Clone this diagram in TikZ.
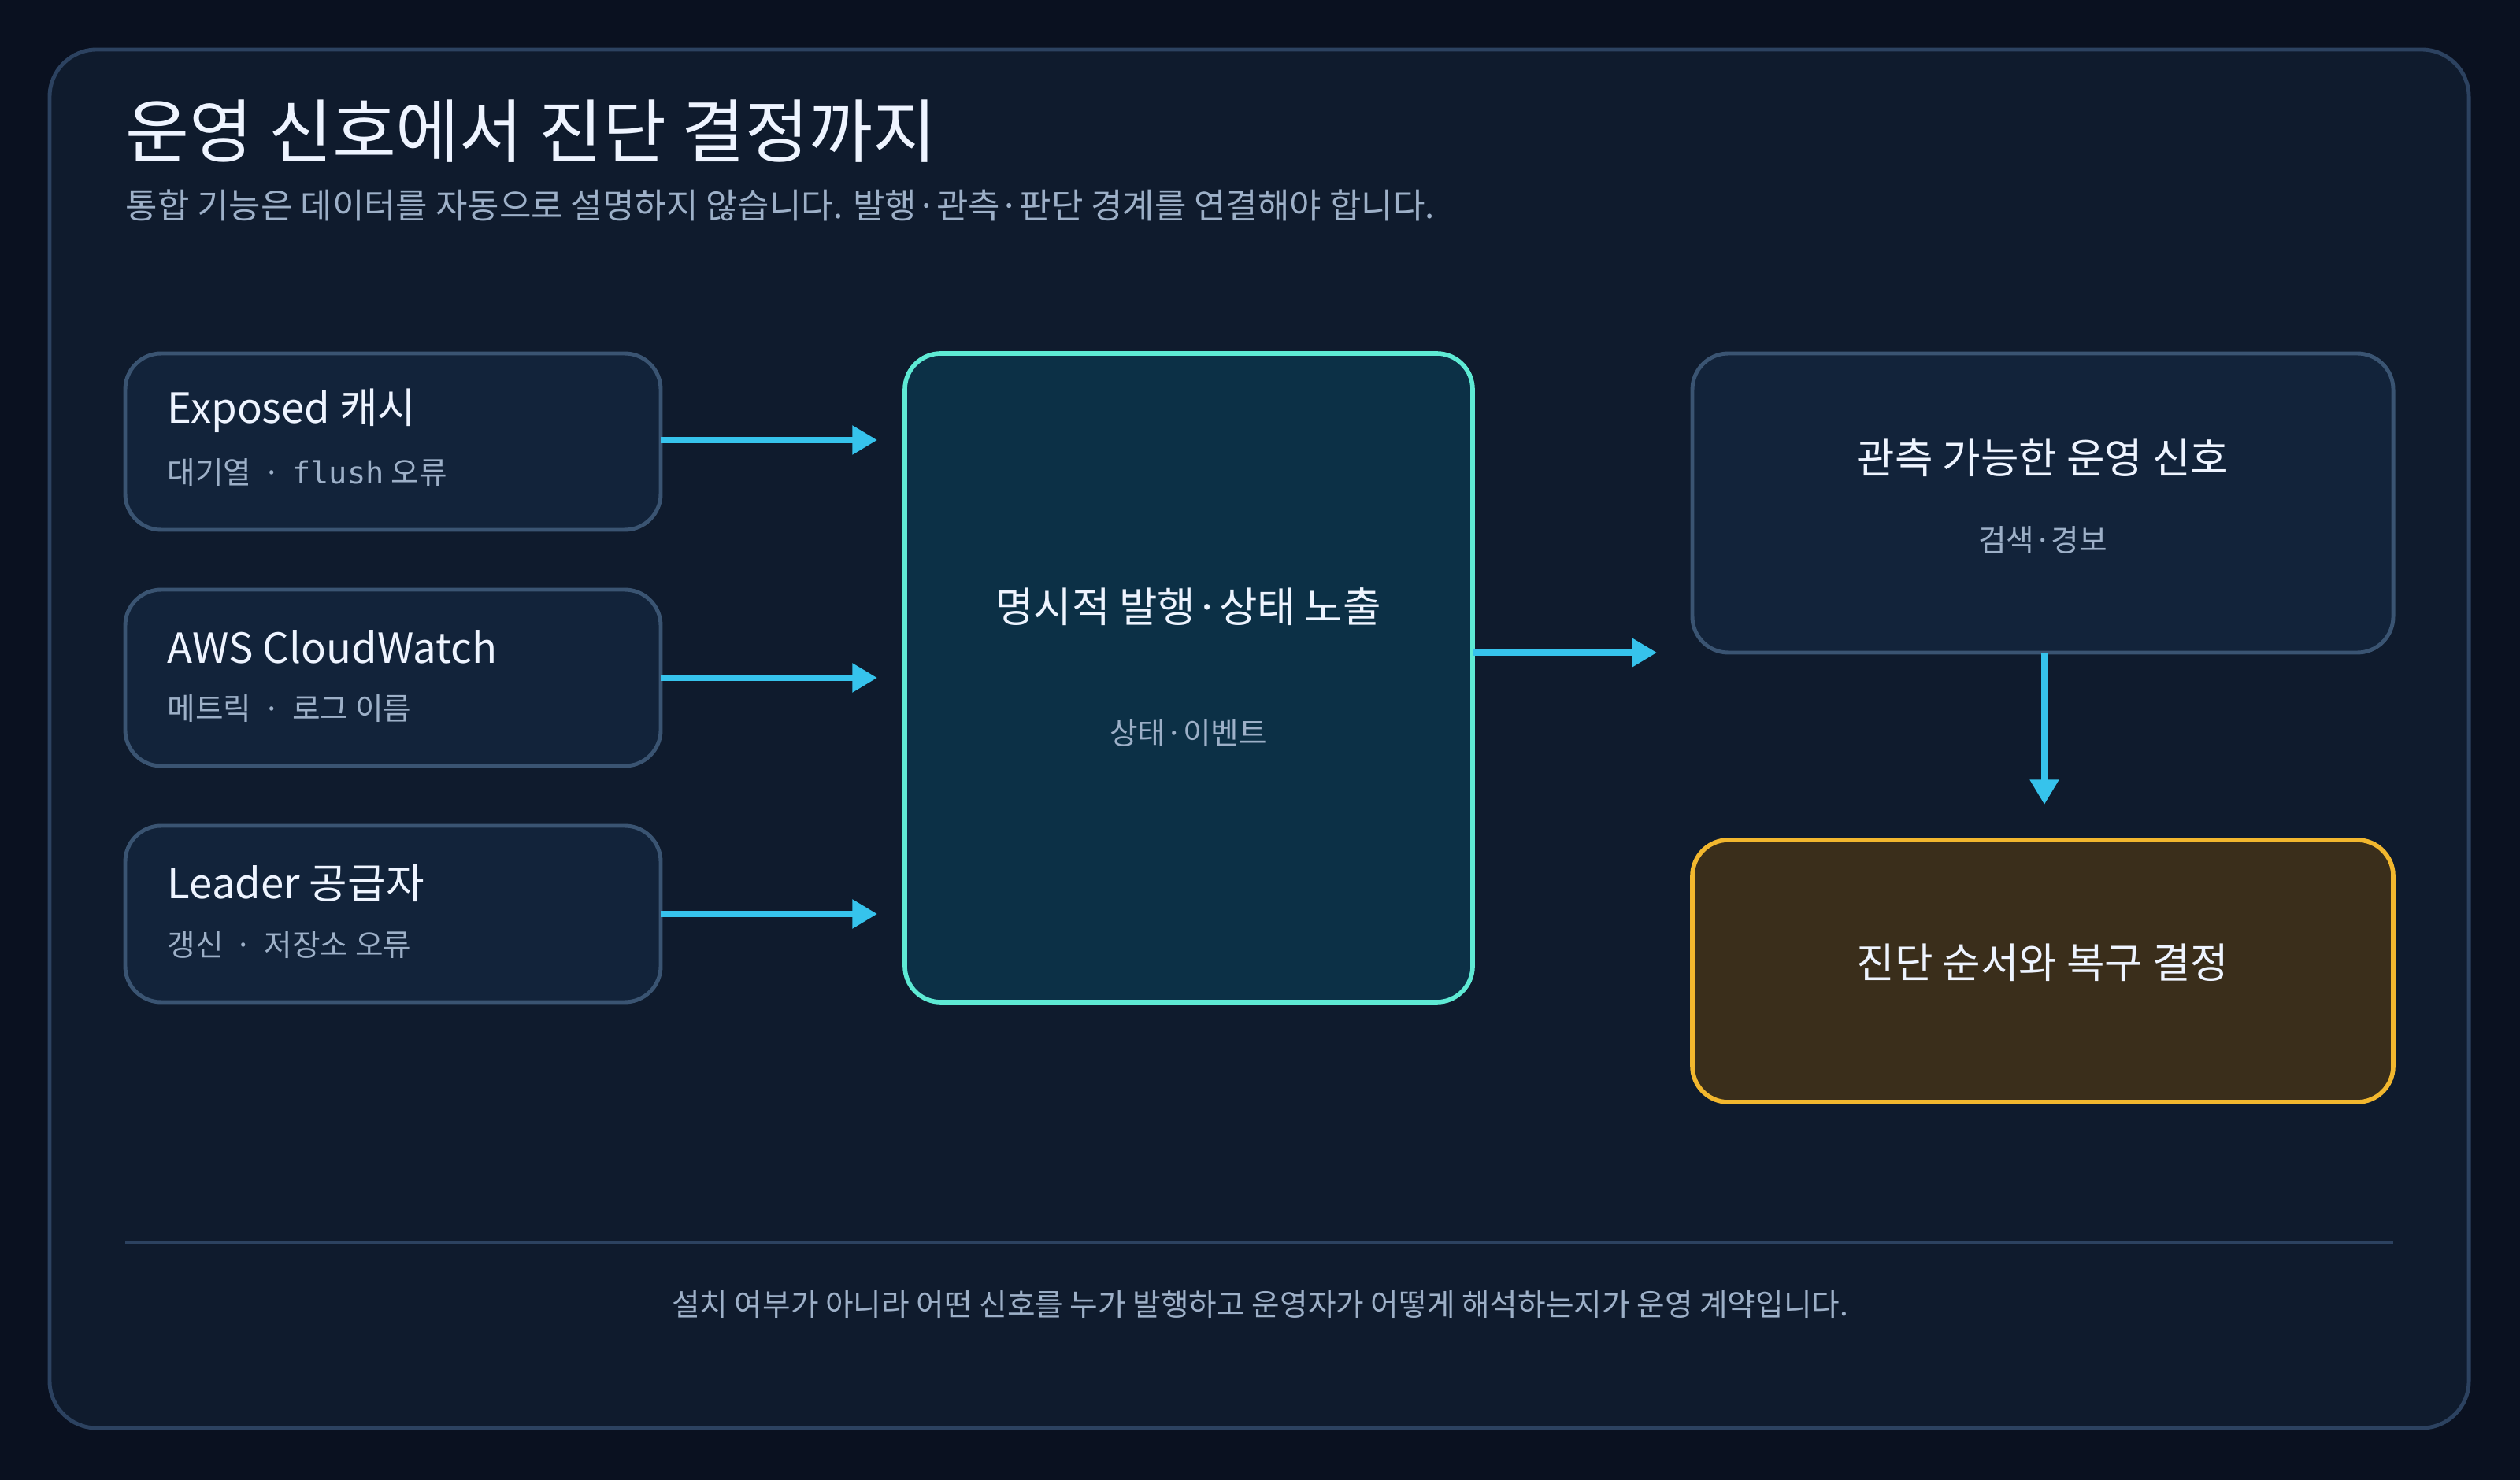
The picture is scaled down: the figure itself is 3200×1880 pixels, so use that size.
\documentclass[tikz,border=0pt]{standalone}
\usepackage{fontspec}
\setmainfont{Noto Sans CJK KR}
\setmonofont{DejaVu Sans Mono}
\usetikzlibrary{arrows.meta}
\definecolor{bg}{HTML}{0A1120}
\definecolor{panel}{HTML}{0F1B2D}
\definecolor{panelb}{HTML}{2C4260}
\definecolor{boxf}{HTML}{12233A}
\definecolor{boxb}{HTML}{3A5472}
\definecolor{arr}{HTML}{36C3EC}
\definecolor{txt}{HTML}{EEF4FF}
\definecolor{sub}{HTML}{9DB0C8}
\definecolor{cfill}{HTML}{0C3046}
\definecolor{cbord}{HTML}{5EEAD4}
\definecolor{yfill}{HTML}{3A2E1B}
\definecolor{ybord}{HTML}{F2B72E}
\begin{document}
\begin{tikzpicture}[x=0.01cm,y=-0.01cm,
 src/.style={draw=boxb,line width=1.4pt,fill=boxf,rounded corners=13pt},
 arrow/.style={draw=arr,line width=2.2pt,-{Triangle[length=9pt,width=10pt]}},
 ttl/.style={text=txt,font=\fontsize{15}{18}\selectfont,inner sep=0},
 st/.style={text=sub,font=\fontsize{11}{13}\selectfont,inner sep=0}]
\useasboundingbox (0,0) rectangle (3200,1880);
\fill[bg] (0,0) rectangle (3200,1880);
\draw[panelb,fill=panel,line width=1.4pt,rounded corners=17pt] (63,63) rectangle (3135,1814);
\node[anchor=west,text=txt,font=\fontsize{25}{30}\selectfont,inner sep=0] (title) at (159,167) {운영 신호에서 진단 결정까지};
\node[anchor=west,st,font=\fontsize{12.5}{15}\selectfont] (subt) at (159,261) {통합 기능은 데이터를 자동으로 설명하지 않습니다. 발행·관측·판단 경계를 연결해야 합니다.};
% left boxes
\path[src] (159,449) rectangle (839,673); \coordinate (a) at (839,559);
\path[src] (159,749) rectangle (839,973); \coordinate (b) at (839,861);
\path[src] (159,1049) rectangle (839,1273); \coordinate (c) at (839,1161);
\node[anchor=west,ttl] (at) at (212,522) {Exposed 캐시};
\node[anchor=west,st] (as) at (212,600) {대기열 \,·\, {\ttfamily flush} 오류};
\node[anchor=west,ttl] (bt) at (212,822) {AWS CloudWatch};
\node[anchor=west,st] (bs) at (212,900) {메트릭 \,·\, 로그 이름};
\node[anchor=west,ttl] (ct) at (212,1122) {Leader 공급자};
\node[anchor=west,st] (cs) at (212,1200) {갱신 \,·\, 저장소 오류};
% center
\draw[cbord,fill=cfill,line width=1.6pt,rounded corners=13pt] (1149,449) rectangle (1870,1273);
\node[ttl] (mt) at (1509,771) {명시적 발행·상태 노출};
\node[st] (ms) at (1509,931) {상태·이벤트};
\coordinate (ma) at (1114,559); \coordinate (mb) at (1114,861); \coordinate (mc) at (1114,1161);
\draw[arrow] (a) -- (ma); \draw[arrow] (b) -- (mb); \draw[arrow] (c) -- (mc);
% right
\path[src] (2149,449) rectangle (3039,829);
\node[ttl] (rt) at (2594,582) {관측 가능한 운영 신호};
\node[st] (rs) at (2594,686) {검색·경보};
\coordinate (mo) at (1870,829); \coordinate (ri) at (2104,829);
\draw[arrow] (mo) -- (ri);
\draw[ybord,fill=yfill,line width=1.6pt,rounded corners=13pt] (2149,1067) rectangle (3039,1400);
\node[ttl] (yt) at (2594,1223) {진단 순서와 복구 결정};
\coordinate (rb) at (2596,829); \coordinate (yi) at (2596,1022);
\draw[arrow] (rb) -- (yi);
% footer
\coordinate (l1) at (159,1578); \coordinate (l2) at (3039,1578);
\draw[panelb,line width=1.4pt] (l1) -- (l2);
\node[st] (ft) at (1600,1657) {설치 여부가 아니라 어떤 신호를 누가 발행하고 운영자가 어떻게 해석하는지가 운영 계약입니다.};
\end{tikzpicture}
\end{document}
